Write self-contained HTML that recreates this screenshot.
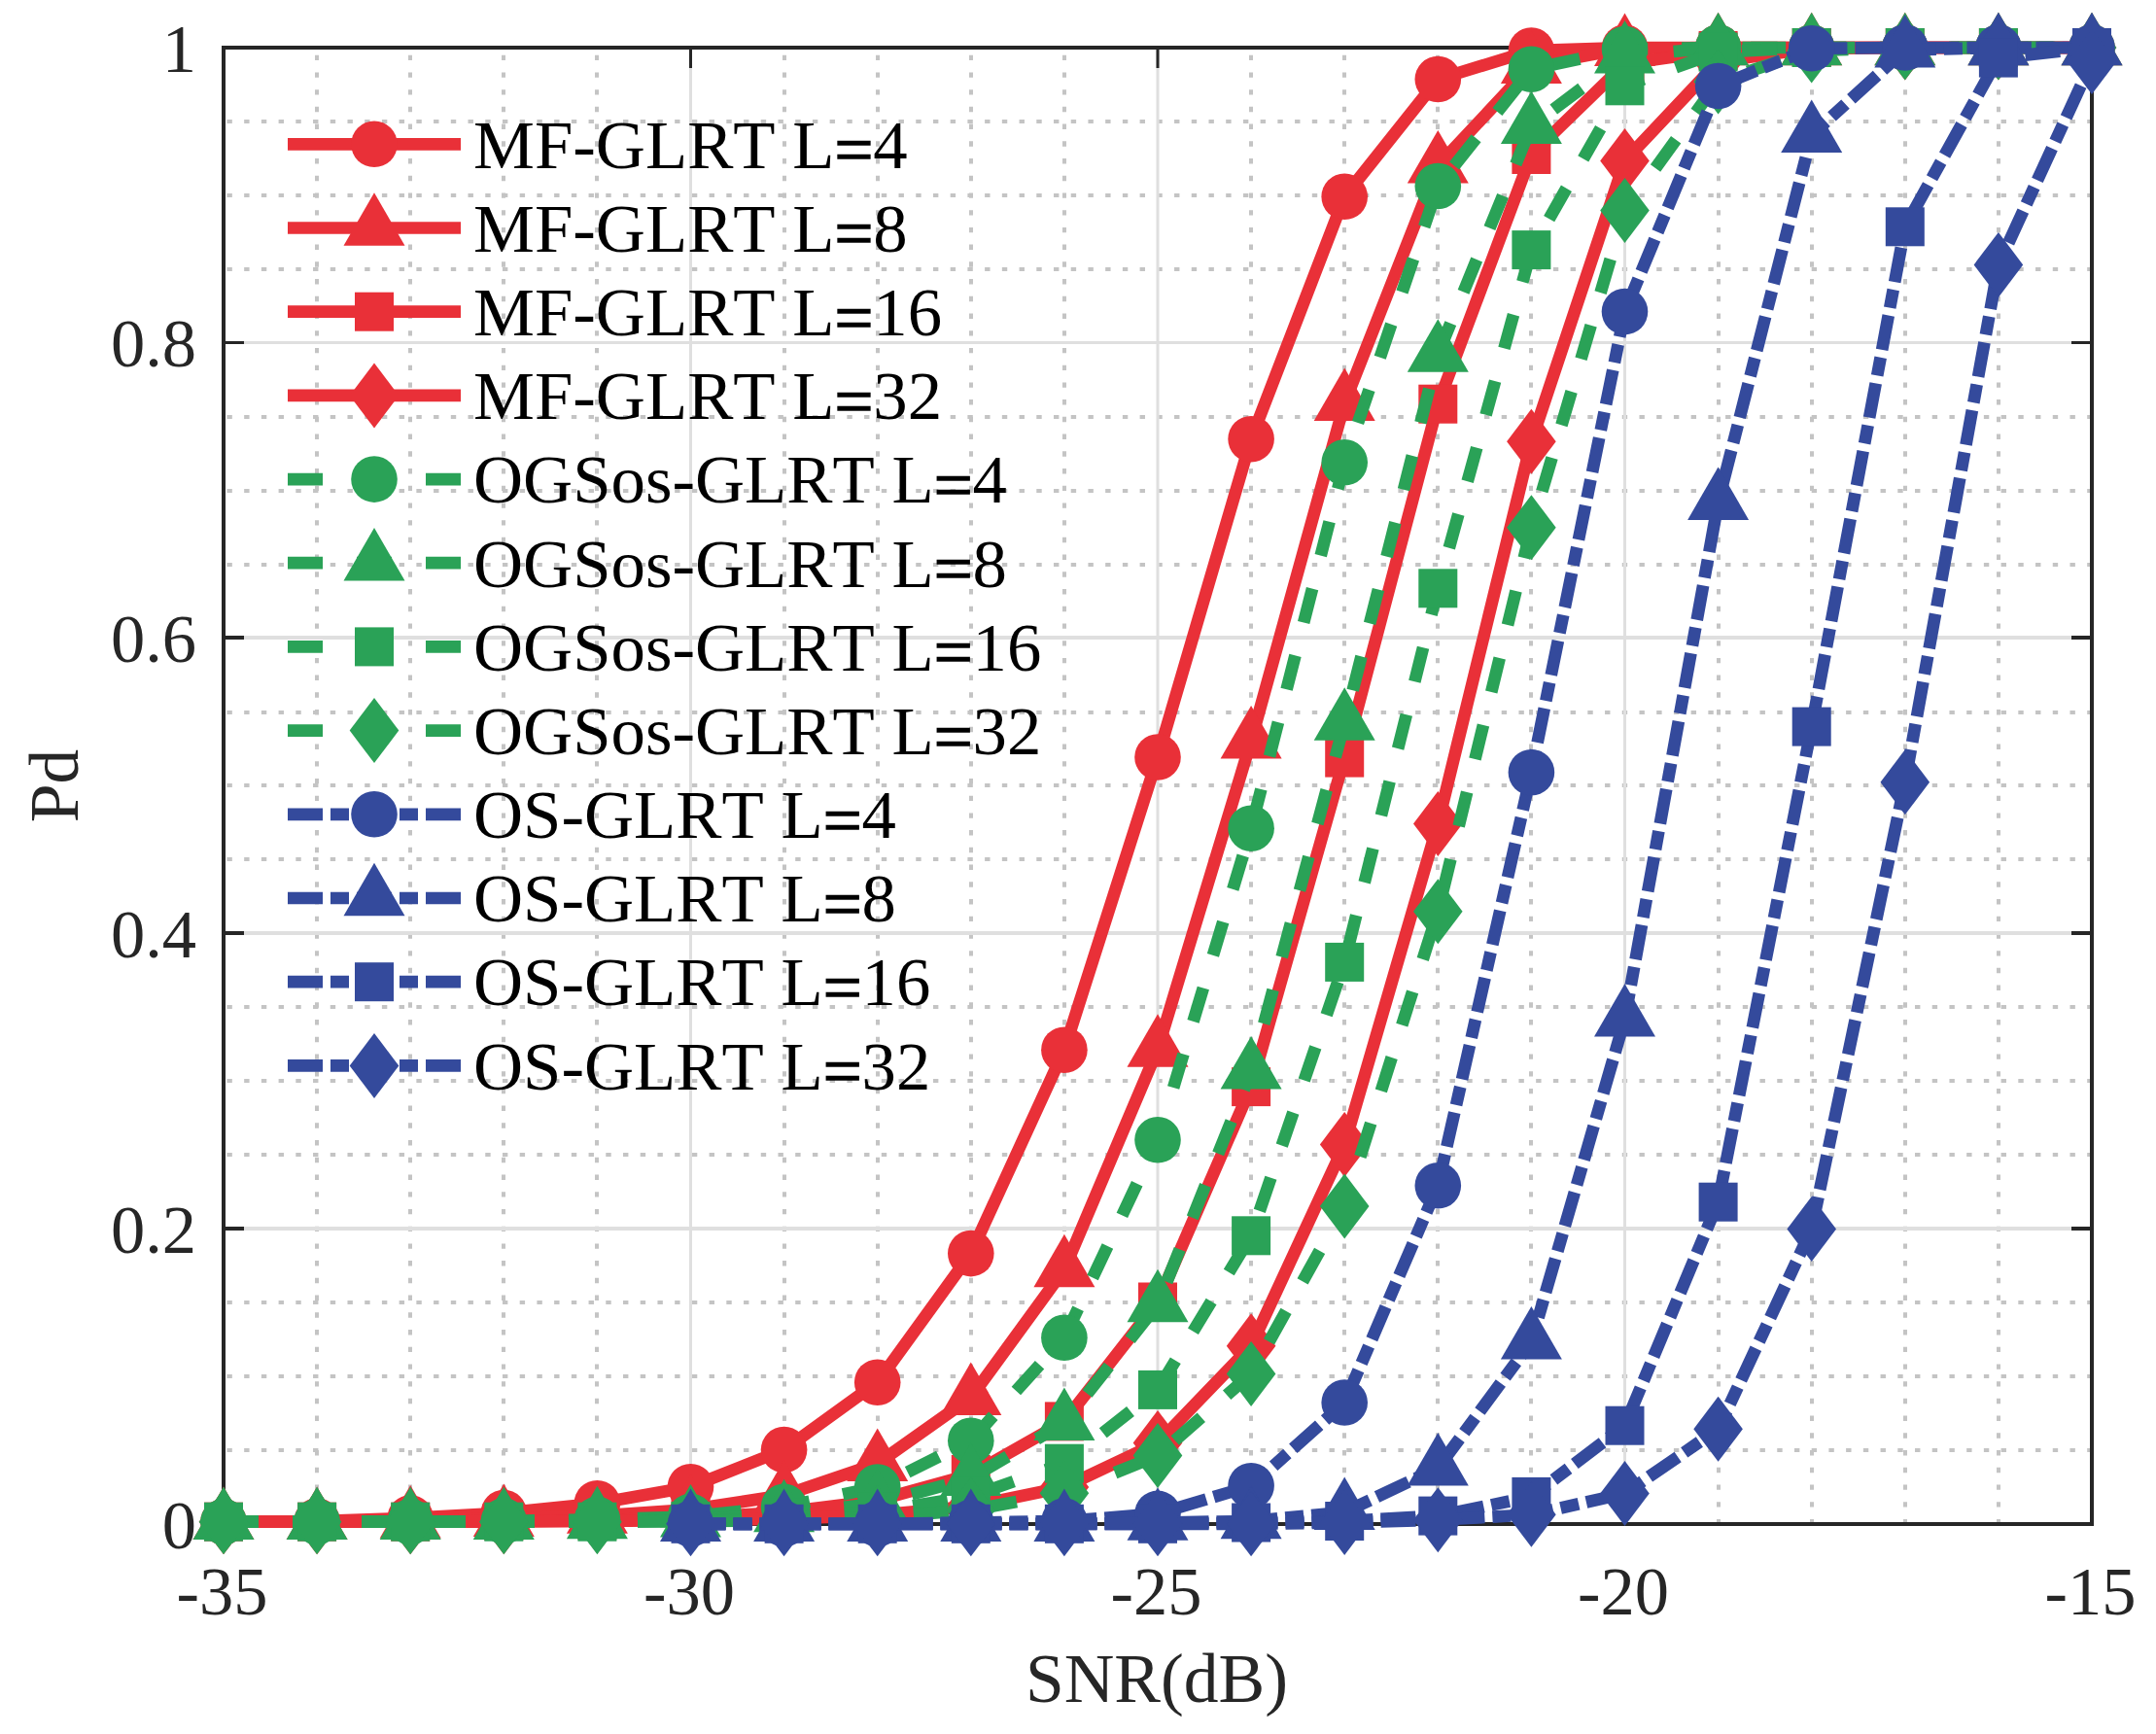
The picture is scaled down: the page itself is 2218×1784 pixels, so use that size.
<!DOCTYPE html>
<html><head><meta charset="utf-8"><title>Pd vs SNR</title>
<style>html,body{margin:0;padding:0;background:#fff;overflow:hidden}svg{display:block}text{font-kerning:none;font-variant-ligatures:none;font-family:"Liberation Serif","Times New Roman",serif;font-size:70.5px}</style></head><body>
<svg width="2218" height="1784" viewBox="0 0 2218 1784">
<rect width="2218" height="1784" fill="#fff"/>
<g stroke="#c4c4c4" stroke-width="4" stroke-dasharray="5.4 12.32" fill="none"><line x1="326.0" y1="1568.3" x2="326.0" y2="49.0" /><line x1="422.0" y1="1568.3" x2="422.0" y2="49.0" /><line x1="518.0" y1="1568.3" x2="518.0" y2="49.0" /><line x1="614.0" y1="1568.3" x2="614.0" y2="49.0" /><line x1="807.0" y1="1568.3" x2="807.0" y2="49.0" /><line x1="903.0" y1="1568.3" x2="903.0" y2="49.0" /><line x1="999.0" y1="1568.3" x2="999.0" y2="49.0" /><line x1="1095.0" y1="1568.3" x2="1095.0" y2="49.0" /><line x1="1287.0" y1="1568.3" x2="1287.0" y2="49.0" /><line x1="1383.0" y1="1568.3" x2="1383.0" y2="49.0" /><line x1="1479.0" y1="1568.3" x2="1479.0" y2="49.0" /><line x1="1575.0" y1="1568.3" x2="1575.0" y2="49.0" /><line x1="1768.0" y1="1568.3" x2="1768.0" y2="49.0" /><line x1="1864.0" y1="1568.3" x2="1864.0" y2="49.0" /><line x1="1960.0" y1="1568.3" x2="1960.0" y2="49.0" /><line x1="2056.0" y1="1568.3" x2="2056.0" y2="49.0" /><line x1="2152.6" y1="1492.0" x2="230.0" y2="1492.0" /><line x1="2152.6" y1="1416.0" x2="230.0" y2="1416.0" /><line x1="2152.6" y1="1340.0" x2="230.0" y2="1340.0" /><line x1="2152.6" y1="1188.0" x2="230.0" y2="1188.0" /><line x1="2152.6" y1="1112.0" x2="230.0" y2="1112.0" /><line x1="2152.6" y1="1036.0" x2="230.0" y2="1036.0" /><line x1="2152.6" y1="884.0" x2="230.0" y2="884.0" /><line x1="2152.6" y1="808.0" x2="230.0" y2="808.0" /><line x1="2152.6" y1="733.0" x2="230.0" y2="733.0" /><line x1="2152.6" y1="581.0" x2="230.0" y2="581.0" /><line x1="2152.6" y1="505.0" x2="230.0" y2="505.0" /><line x1="2152.6" y1="429.0" x2="230.0" y2="429.0" /><line x1="2152.6" y1="277.0" x2="230.0" y2="277.0" /><line x1="2152.6" y1="201.0" x2="230.0" y2="201.0" /><line x1="2152.6" y1="125.0" x2="230.0" y2="125.0" /></g>
<g stroke="#dfdfdf" fill="none"><line x1="710.5" y1="1568.0" x2="710.5" y2="49.0" stroke-width="3"/><line x1="1191.0" y1="1568.0" x2="1191.0" y2="49.0" stroke-width="3"/><line x1="1671.5" y1="1568.0" x2="1671.5" y2="49.0" stroke-width="3"/><line x1="230.0" y1="1264.0" x2="2152.0" y2="1264.0" stroke-width="4"/><line x1="230.0" y1="960.0" x2="2152.0" y2="960.0" stroke-width="4"/><line x1="230.0" y1="656.0" x2="2152.0" y2="656.0" stroke-width="4"/><line x1="230.0" y1="352.5" x2="2152.0" y2="352.5" stroke-width="3"/></g>
<g stroke="#262626" fill="none"><rect x="230.0" y="49.0" width="1922.0" height="1519.0" fill="none" stroke-width="4"/><line x1="710.5" y1="1568.0" x2="710.5" y2="1547.0" stroke-width="3"/><line x1="710.5" y1="49.0" x2="710.5" y2="70.0" stroke-width="3"/><line x1="1191.0" y1="1568.0" x2="1191.0" y2="1547.0" stroke-width="3"/><line x1="1191.0" y1="49.0" x2="1191.0" y2="70.0" stroke-width="3"/><line x1="1671.5" y1="1568.0" x2="1671.5" y2="1547.0" stroke-width="3"/><line x1="1671.5" y1="49.0" x2="1671.5" y2="70.0" stroke-width="3"/><line x1="230.0" y1="1264.0" x2="251.0" y2="1264.0" stroke-width="4"/><line x1="2152.0" y1="1264.0" x2="2131.0" y2="1264.0" stroke-width="4"/><line x1="230.0" y1="960.0" x2="251.0" y2="960.0" stroke-width="4"/><line x1="2152.0" y1="960.0" x2="2131.0" y2="960.0" stroke-width="4"/><line x1="230.0" y1="656.0" x2="251.0" y2="656.0" stroke-width="4"/><line x1="2152.0" y1="656.0" x2="2131.0" y2="656.0" stroke-width="4"/><line x1="230.0" y1="352.5" x2="251.0" y2="352.5" stroke-width="3"/><line x1="2152.0" y1="352.5" x2="2131.0" y2="352.5" stroke-width="3"/></g>
<text x="228.5" y="1660.8" text-anchor="middle" fill="#262626">-35</text>
<text x="709.0" y="1660.8" text-anchor="middle" fill="#262626">-30</text>
<text x="1189.5" y="1660.8" text-anchor="middle" fill="#262626">-25</text>
<text x="1670.0" y="1660.8" text-anchor="middle" fill="#262626">-20</text>
<text x="2150.5" y="1660.8" text-anchor="middle" fill="#262626">-15</text>
<text x="202" y="1592.6" text-anchor="end" fill="#262626">0</text>
<text x="202" y="1288.8" text-anchor="end" fill="#262626">0.2</text>
<text x="202" y="985.0" text-anchor="end" fill="#262626">0.4</text>
<text x="202" y="681.2" text-anchor="end" fill="#262626">0.6</text>
<text x="202" y="377.4" text-anchor="end" fill="#262626">0.8</text>
<text x="202" y="73.6" text-anchor="end" fill="#262626">1</text>
<text x="1190" y="1751" text-anchor="middle" fill="#262626" style="font-size:71.5px">SNR(dB)</text>
<text transform="translate(80,808.5) rotate(-90)" text-anchor="middle" fill="#262626" style="font-size:71.5px">Pd</text>
<g><path d="M230.0,1565.7 L326.1,1565.0 L422.2,1561.9 L518.3,1556.6 L614.4,1546.7 L710.5,1529.7 L806.6,1491.6 L902.7,1422.2 L998.8,1289.6 L1094.9,1080.2 L1191.0,779.0 L1287.1,451.7 L1383.2,202.3 L1479.3,81.5 L1575.4,52.0 L1671.5,49.0 L1767.6,49.0 L1863.7,49.0 L1959.8,49.0 L2055.9,49.0 L2152.0,49.0" fill="none" stroke="#e93038" stroke-width="12.7" stroke-linejoin="round"/>
<circle cx="230.0" cy="1565.7" r="23.8" fill="#e93038"/><circle cx="326.1" cy="1565.0" r="23.8" fill="#e93038"/><circle cx="422.2" cy="1561.9" r="23.8" fill="#e93038"/><circle cx="518.3" cy="1556.6" r="23.8" fill="#e93038"/><circle cx="614.4" cy="1546.7" r="23.8" fill="#e93038"/><circle cx="710.5" cy="1529.7" r="23.8" fill="#e93038"/><circle cx="806.6" cy="1491.6" r="23.8" fill="#e93038"/><circle cx="902.7" cy="1422.2" r="23.8" fill="#e93038"/><circle cx="998.8" cy="1289.6" r="23.8" fill="#e93038"/><circle cx="1094.9" cy="1080.2" r="23.8" fill="#e93038"/><circle cx="1191.0" cy="779.0" r="23.8" fill="#e93038"/><circle cx="1287.1" cy="451.7" r="23.8" fill="#e93038"/><circle cx="1383.2" cy="202.3" r="23.8" fill="#e93038"/><circle cx="1479.3" cy="81.5" r="23.8" fill="#e93038"/><circle cx="1575.4" cy="52.0" r="23.8" fill="#e93038"/><circle cx="1671.5" cy="49.0" r="23.8" fill="#e93038"/><circle cx="1767.6" cy="49.0" r="23.8" fill="#e93038"/><circle cx="1863.7" cy="49.0" r="23.8" fill="#e93038"/><circle cx="1959.8" cy="49.0" r="23.8" fill="#e93038"/><circle cx="2055.9" cy="49.0" r="23.8" fill="#e93038"/><circle cx="2152.0" cy="49.0" r="23.8" fill="#e93038"/></g>
<g><path d="M230.0,1565.7 L326.1,1565.7 L422.2,1564.2 L518.3,1562.7 L614.4,1559.6 L710.5,1553.1 L806.6,1538.4 L902.7,1505.7 L998.8,1437.7 L1094.9,1306.1 L1191.0,1079.5 L1287.1,762.2 L1383.2,414.8 L1479.3,170.4 L1575.4,67.7 L1671.5,49.8 L1767.6,49.0 L1863.7,49.0 L1959.8,49.0 L2055.9,49.0 L2152.0,49.0" fill="none" stroke="#e93038" stroke-width="12.7" stroke-linejoin="round"/>
<polygon points="230.0,1529.4 261.5,1583.9 198.5,1583.9" fill="#e93038"/><polygon points="326.1,1529.4 357.6,1583.9 294.6,1583.9" fill="#e93038"/><polygon points="422.2,1527.9 453.7,1582.4 390.7,1582.4" fill="#e93038"/><polygon points="518.3,1526.4 549.8,1580.9 486.8,1580.9" fill="#e93038"/><polygon points="614.4,1523.3 645.9,1577.8 582.9,1577.8" fill="#e93038"/><polygon points="710.5,1516.8 742.0,1571.3 679.0,1571.3" fill="#e93038"/><polygon points="806.6,1502.1 838.1,1556.6 775.1,1556.6" fill="#e93038"/><polygon points="902.7,1469.4 934.2,1523.9 871.2,1523.9" fill="#e93038"/><polygon points="998.8,1401.4 1030.3,1455.9 967.3,1455.9" fill="#e93038"/><polygon points="1094.9,1269.8 1126.4,1324.3 1063.4,1324.3" fill="#e93038"/><polygon points="1191.0,1043.2 1222.5,1097.7 1159.5,1097.7" fill="#e93038"/><polygon points="1287.1,725.9 1318.6,780.4 1255.6,780.4" fill="#e93038"/><polygon points="1383.2,378.5 1414.7,433.0 1351.7,433.0" fill="#e93038"/><polygon points="1479.3,134.1 1510.8,188.6 1447.8,188.6" fill="#e93038"/><polygon points="1575.4,31.4 1606.9,85.9 1543.9,85.9" fill="#e93038"/><polygon points="1671.5,13.5 1703.0,68.0 1640.0,68.0" fill="#e93038"/><polygon points="1767.6,12.7 1799.1,67.2 1736.1,67.2" fill="#e93038"/><polygon points="1863.7,12.7 1895.2,67.2 1832.2,67.2" fill="#e93038"/><polygon points="1959.8,12.7 1991.3,67.2 1928.3,67.2" fill="#e93038"/><polygon points="2055.9,12.7 2087.4,67.2 2024.4,67.2" fill="#e93038"/><polygon points="2152.0,12.7 2183.5,67.2 2120.5,67.2" fill="#e93038"/></g>
<g><path d="M230.0,1565.7 L326.1,1565.7 L422.2,1565.7 L518.3,1565.0 L614.4,1564.2 L710.5,1561.9 L806.6,1555.8 L902.7,1543.7 L998.8,1517.0 L1094.9,1462.4 L1191.0,1339.5 L1287.1,1118.1 L1383.2,779.6 L1479.3,415.7 L1575.4,159.0 L1671.5,65.7 L1767.6,52.0 L1863.7,49.0 L1959.8,49.0 L2055.9,49.0 L2152.0,49.0" fill="none" stroke="#e93038" stroke-width="12.7" stroke-linejoin="round"/>
<rect x="210.0" y="1545.7" width="40" height="40" fill="#e93038"/><rect x="306.1" y="1545.7" width="40" height="40" fill="#e93038"/><rect x="402.2" y="1545.7" width="40" height="40" fill="#e93038"/><rect x="498.3" y="1545.0" width="40" height="40" fill="#e93038"/><rect x="594.4" y="1544.2" width="40" height="40" fill="#e93038"/><rect x="690.5" y="1541.9" width="40" height="40" fill="#e93038"/><rect x="786.6" y="1535.8" width="40" height="40" fill="#e93038"/><rect x="882.7" y="1523.7" width="40" height="40" fill="#e93038"/><rect x="978.8" y="1497.0" width="40" height="40" fill="#e93038"/><rect x="1074.9" y="1442.4" width="40" height="40" fill="#e93038"/><rect x="1171.0" y="1319.5" width="40" height="40" fill="#e93038"/><rect x="1267.1" y="1098.1" width="40" height="40" fill="#e93038"/><rect x="1363.2" y="759.6" width="40" height="40" fill="#e93038"/><rect x="1459.3" y="395.7" width="40" height="40" fill="#e93038"/><rect x="1555.4" y="139.0" width="40" height="40" fill="#e93038"/><rect x="1651.5" y="45.7" width="40" height="40" fill="#e93038"/><rect x="1747.6" y="32.0" width="40" height="40" fill="#e93038"/><rect x="1843.7" y="29.0" width="40" height="40" fill="#e93038"/><rect x="1939.8" y="29.0" width="40" height="40" fill="#e93038"/><rect x="2035.9" y="29.0" width="40" height="40" fill="#e93038"/><rect x="2132.0" y="29.0" width="40" height="40" fill="#e93038"/></g>
<g><path d="M230.0,1565.7 L326.1,1565.7 L422.2,1565.7 L518.3,1565.7 L614.4,1565.0 L710.5,1564.2 L806.6,1562.7 L902.7,1558.9 L998.8,1549.8 L1094.9,1530.0 L1191.0,1484.6 L1287.1,1384.8 L1383.2,1177.6 L1479.3,847.4 L1575.4,454.3 L1671.5,165.4 L1767.6,63.4 L1863.7,49.8 L1959.8,49.0 L2055.9,49.0 L2152.0,49.0" fill="none" stroke="#e93038" stroke-width="12.7" stroke-linejoin="round"/>
<polygon points="230.0,1532.2 255.3,1565.7 230.0,1599.2 204.7,1565.7" fill="#e93038"/><polygon points="326.1,1532.2 351.4,1565.7 326.1,1599.2 300.8,1565.7" fill="#e93038"/><polygon points="422.2,1532.2 447.5,1565.7 422.2,1599.2 396.9,1565.7" fill="#e93038"/><polygon points="518.3,1532.2 543.6,1565.7 518.3,1599.2 493.0,1565.7" fill="#e93038"/><polygon points="614.4,1531.5 639.7,1565.0 614.4,1598.5 589.1,1565.0" fill="#e93038"/><polygon points="710.5,1530.7 735.8,1564.2 710.5,1597.7 685.2,1564.2" fill="#e93038"/><polygon points="806.6,1529.2 831.9,1562.7 806.6,1596.2 781.3,1562.7" fill="#e93038"/><polygon points="902.7,1525.4 928.0,1558.9 902.7,1592.4 877.4,1558.9" fill="#e93038"/><polygon points="998.8,1516.3 1024.1,1549.8 998.8,1583.3 973.5,1549.8" fill="#e93038"/><polygon points="1094.9,1496.5 1120.2,1530.0 1094.9,1563.5 1069.6,1530.0" fill="#e93038"/><polygon points="1191.0,1451.1 1216.3,1484.6 1191.0,1518.1 1165.7,1484.6" fill="#e93038"/><polygon points="1287.1,1351.3 1312.4,1384.8 1287.1,1418.3 1261.8,1384.8" fill="#e93038"/><polygon points="1383.2,1144.1 1408.5,1177.6 1383.2,1211.1 1357.9,1177.6" fill="#e93038"/><polygon points="1479.3,813.9 1504.6,847.4 1479.3,880.9 1454.0,847.4" fill="#e93038"/><polygon points="1575.4,420.8 1600.7,454.3 1575.4,487.8 1550.1,454.3" fill="#e93038"/><polygon points="1671.5,131.9 1696.8,165.4 1671.5,198.9 1646.2,165.4" fill="#e93038"/><polygon points="1767.6,29.9 1792.9,63.4 1767.6,96.9 1742.3,63.4" fill="#e93038"/><polygon points="1863.7,16.3 1889.0,49.8 1863.7,83.3 1838.4,49.8" fill="#e93038"/><polygon points="1959.8,15.5 1985.1,49.0 1959.8,82.5 1934.5,49.0" fill="#e93038"/><polygon points="2055.9,15.5 2081.2,49.0 2055.9,82.5 2030.6,49.0" fill="#e93038"/><polygon points="2152.0,15.5 2177.3,49.0 2152.0,82.5 2126.7,49.0" fill="#e93038"/></g>
<g><path d="M230.0,1565.7 L326.1,1565.7 L422.2,1565.7 L518.3,1565.0 L614.4,1563.4 L710.5,1560.4 L806.6,1550.2 L902.7,1530.0 L998.8,1482.2 L1094.9,1376.3 L1191.0,1172.8 L1287.1,852.2 L1383.2,475.8 L1479.3,191.5 L1575.4,71.2 L1671.5,50.5 L1767.6,49.0 L1863.7,49.0 L1959.8,49.0 L2055.9,49.0 L2152.0,49.0" fill="none" stroke="#2aa257" stroke-width="12.7" stroke-linejoin="round" stroke-dasharray="36 35"/>
<circle cx="230.0" cy="1565.7" r="23.8" fill="#2aa257"/><circle cx="326.1" cy="1565.7" r="23.8" fill="#2aa257"/><circle cx="422.2" cy="1565.7" r="23.8" fill="#2aa257"/><circle cx="518.3" cy="1565.0" r="23.8" fill="#2aa257"/><circle cx="614.4" cy="1563.4" r="23.8" fill="#2aa257"/><circle cx="710.5" cy="1560.4" r="23.8" fill="#2aa257"/><circle cx="806.6" cy="1550.2" r="23.8" fill="#2aa257"/><circle cx="902.7" cy="1530.0" r="23.8" fill="#2aa257"/><circle cx="998.8" cy="1482.2" r="23.8" fill="#2aa257"/><circle cx="1094.9" cy="1376.3" r="23.8" fill="#2aa257"/><circle cx="1191.0" cy="1172.8" r="23.8" fill="#2aa257"/><circle cx="1287.1" cy="852.2" r="23.8" fill="#2aa257"/><circle cx="1383.2" cy="475.8" r="23.8" fill="#2aa257"/><circle cx="1479.3" cy="191.5" r="23.8" fill="#2aa257"/><circle cx="1575.4" cy="71.2" r="23.8" fill="#2aa257"/><circle cx="1671.5" cy="50.5" r="23.8" fill="#2aa257"/><circle cx="1767.6" cy="49.0" r="23.8" fill="#2aa257"/><circle cx="1863.7" cy="49.0" r="23.8" fill="#2aa257"/><circle cx="1959.8" cy="49.0" r="23.8" fill="#2aa257"/><circle cx="2055.9" cy="49.0" r="23.8" fill="#2aa257"/><circle cx="2152.0" cy="49.0" r="23.8" fill="#2aa257"/></g>
<g><path d="M230.0,1565.7 L326.1,1565.7 L422.2,1565.7 L518.3,1565.7 L614.4,1565.0 L710.5,1563.4 L806.6,1558.1 L902.7,1546.7 L998.8,1520.9 L1094.9,1463.8 L1191.0,1342.0 L1287.1,1102.4 L1383.2,743.6 L1479.3,364.5 L1575.4,129.7 L1671.5,57.4 L1767.6,49.0 L1863.7,49.0 L1959.8,49.0 L2055.9,49.0 L2152.0,49.0" fill="none" stroke="#2aa257" stroke-width="12.7" stroke-linejoin="round" stroke-dasharray="36 35"/>
<polygon points="230.0,1529.4 261.5,1583.9 198.5,1583.9" fill="#2aa257"/><polygon points="326.1,1529.4 357.6,1583.9 294.6,1583.9" fill="#2aa257"/><polygon points="422.2,1529.4 453.7,1583.9 390.7,1583.9" fill="#2aa257"/><polygon points="518.3,1529.4 549.8,1583.9 486.8,1583.9" fill="#2aa257"/><polygon points="614.4,1528.7 645.9,1583.2 582.9,1583.2" fill="#2aa257"/><polygon points="710.5,1527.1 742.0,1581.6 679.0,1581.6" fill="#2aa257"/><polygon points="806.6,1521.8 838.1,1576.3 775.1,1576.3" fill="#2aa257"/><polygon points="902.7,1510.4 934.2,1564.9 871.2,1564.9" fill="#2aa257"/><polygon points="998.8,1484.6 1030.3,1539.1 967.3,1539.1" fill="#2aa257"/><polygon points="1094.9,1427.5 1126.4,1482.0 1063.4,1482.0" fill="#2aa257"/><polygon points="1191.0,1305.7 1222.5,1360.2 1159.5,1360.2" fill="#2aa257"/><polygon points="1287.1,1066.1 1318.6,1120.6 1255.6,1120.6" fill="#2aa257"/><polygon points="1383.2,707.3 1414.7,761.8 1351.7,761.8" fill="#2aa257"/><polygon points="1479.3,328.2 1510.8,382.7 1447.8,382.7" fill="#2aa257"/><polygon points="1575.4,93.4 1606.9,147.9 1543.9,147.9" fill="#2aa257"/><polygon points="1671.5,21.1 1703.0,75.6 1640.0,75.6" fill="#2aa257"/><polygon points="1767.6,12.7 1799.1,67.2 1736.1,67.2" fill="#2aa257"/><polygon points="1863.7,12.7 1895.2,67.2 1832.2,67.2" fill="#2aa257"/><polygon points="1959.8,12.7 1991.3,67.2 1928.3,67.2" fill="#2aa257"/><polygon points="2055.9,12.7 2087.4,67.2 2024.4,67.2" fill="#2aa257"/><polygon points="2152.0,12.7 2183.5,67.2 2120.5,67.2" fill="#2aa257"/></g>
<g><path d="M230.0,1565.7 L326.1,1565.7 L422.2,1565.7 L518.3,1565.7 L614.4,1565.7 L710.5,1565.0 L806.6,1561.9 L902.7,1555.1 L998.8,1539.7 L1094.9,1505.7 L1191.0,1429.9 L1287.1,1271.3 L1383.2,989.9 L1479.3,605.3 L1575.4,257.1 L1671.5,88.3 L1767.6,53.6 L1863.7,49.0 L1959.8,49.0 L2055.9,49.0 L2152.0,49.0" fill="none" stroke="#2aa257" stroke-width="12.7" stroke-linejoin="round" stroke-dasharray="36 35"/>
<rect x="210.0" y="1545.7" width="40" height="40" fill="#2aa257"/><rect x="306.1" y="1545.7" width="40" height="40" fill="#2aa257"/><rect x="402.2" y="1545.7" width="40" height="40" fill="#2aa257"/><rect x="498.3" y="1545.7" width="40" height="40" fill="#2aa257"/><rect x="594.4" y="1545.7" width="40" height="40" fill="#2aa257"/><rect x="690.5" y="1545.0" width="40" height="40" fill="#2aa257"/><rect x="786.6" y="1541.9" width="40" height="40" fill="#2aa257"/><rect x="882.7" y="1535.1" width="40" height="40" fill="#2aa257"/><rect x="978.8" y="1519.7" width="40" height="40" fill="#2aa257"/><rect x="1074.9" y="1485.7" width="40" height="40" fill="#2aa257"/><rect x="1171.0" y="1409.9" width="40" height="40" fill="#2aa257"/><rect x="1267.1" y="1251.3" width="40" height="40" fill="#2aa257"/><rect x="1363.2" y="969.9" width="40" height="40" fill="#2aa257"/><rect x="1459.3" y="585.3" width="40" height="40" fill="#2aa257"/><rect x="1555.4" y="237.1" width="40" height="40" fill="#2aa257"/><rect x="1651.5" y="68.3" width="40" height="40" fill="#2aa257"/><rect x="1747.6" y="33.6" width="40" height="40" fill="#2aa257"/><rect x="1843.7" y="29.0" width="40" height="40" fill="#2aa257"/><rect x="1939.8" y="29.0" width="40" height="40" fill="#2aa257"/><rect x="2035.9" y="29.0" width="40" height="40" fill="#2aa257"/><rect x="2132.0" y="29.0" width="40" height="40" fill="#2aa257"/></g>
<g><path d="M230.0,1565.7 L326.1,1565.7 L422.2,1565.7 L518.3,1565.7 L614.4,1565.7 L710.5,1565.0 L806.6,1564.2 L902.7,1561.2 L998.8,1553.6 L1094.9,1536.3 L1191.0,1497.5 L1287.1,1413.4 L1383.2,1241.0 L1479.3,937.8 L1575.4,542.7 L1671.5,216.5 L1767.6,83.9 L1863.7,52.0 L1959.8,49.0 L2055.9,49.0 L2152.0,49.0" fill="none" stroke="#2aa257" stroke-width="12.7" stroke-linejoin="round" stroke-dasharray="36 35"/>
<polygon points="230.0,1532.2 255.3,1565.7 230.0,1599.2 204.7,1565.7" fill="#2aa257"/><polygon points="326.1,1532.2 351.4,1565.7 326.1,1599.2 300.8,1565.7" fill="#2aa257"/><polygon points="422.2,1532.2 447.5,1565.7 422.2,1599.2 396.9,1565.7" fill="#2aa257"/><polygon points="518.3,1532.2 543.6,1565.7 518.3,1599.2 493.0,1565.7" fill="#2aa257"/><polygon points="614.4,1532.2 639.7,1565.7 614.4,1599.2 589.1,1565.7" fill="#2aa257"/><polygon points="710.5,1531.5 735.8,1565.0 710.5,1598.5 685.2,1565.0" fill="#2aa257"/><polygon points="806.6,1530.7 831.9,1564.2 806.6,1597.7 781.3,1564.2" fill="#2aa257"/><polygon points="902.7,1527.7 928.0,1561.2 902.7,1594.7 877.4,1561.2" fill="#2aa257"/><polygon points="998.8,1520.1 1024.1,1553.6 998.8,1587.1 973.5,1553.6" fill="#2aa257"/><polygon points="1094.9,1502.8 1120.2,1536.3 1094.9,1569.8 1069.6,1536.3" fill="#2aa257"/><polygon points="1191.0,1464.0 1216.3,1497.5 1191.0,1531.0 1165.7,1497.5" fill="#2aa257"/><polygon points="1287.1,1379.9 1312.4,1413.4 1287.1,1446.9 1261.8,1413.4" fill="#2aa257"/><polygon points="1383.2,1207.5 1408.5,1241.0 1383.2,1274.5 1357.9,1241.0" fill="#2aa257"/><polygon points="1479.3,904.3 1504.6,937.8 1479.3,971.3 1454.0,937.8" fill="#2aa257"/><polygon points="1575.4,509.2 1600.7,542.7 1575.4,576.2 1550.1,542.7" fill="#2aa257"/><polygon points="1671.5,183.0 1696.8,216.5 1671.5,250.0 1646.2,216.5" fill="#2aa257"/><polygon points="1767.6,50.4 1792.9,83.9 1767.6,117.4 1742.3,83.9" fill="#2aa257"/><polygon points="1863.7,18.5 1889.0,52.0 1863.7,85.5 1838.4,52.0" fill="#2aa257"/><polygon points="1959.8,15.5 1985.1,49.0 1959.8,82.5 1934.5,49.0" fill="#2aa257"/><polygon points="2055.9,15.5 2081.2,49.0 2055.9,82.5 2030.6,49.0" fill="#2aa257"/><polygon points="2152.0,15.5 2177.3,49.0 2152.0,82.5 2126.7,49.0" fill="#2aa257"/></g>
<g><path d="M710.5,1567.8 L806.6,1567.8 L902.7,1567.8 L998.8,1566.5 L1094.9,1565.0 L1191.0,1557.4 L1287.1,1528.7 L1383.2,1443.0 L1479.3,1219.8 L1575.4,794.7 L1671.5,320.6 L1767.6,88.5 L1863.7,49.8 L1959.8,49.0 L2055.9,49.0 L2152.0,49.0" fill="none" stroke="#344a9c" stroke-width="12.7" stroke-linejoin="round" stroke-dasharray="36 8 19 8"/>
<circle cx="710.5" cy="1567.8" r="23.8" fill="#344a9c"/><circle cx="806.6" cy="1567.8" r="23.8" fill="#344a9c"/><circle cx="902.7" cy="1567.8" r="23.8" fill="#344a9c"/><circle cx="998.8" cy="1566.5" r="23.8" fill="#344a9c"/><circle cx="1094.9" cy="1565.0" r="23.8" fill="#344a9c"/><circle cx="1191.0" cy="1557.4" r="23.8" fill="#344a9c"/><circle cx="1287.1" cy="1528.7" r="23.8" fill="#344a9c"/><circle cx="1383.2" cy="1443.0" r="23.8" fill="#344a9c"/><circle cx="1479.3" cy="1219.8" r="23.8" fill="#344a9c"/><circle cx="1575.4" cy="794.7" r="23.8" fill="#344a9c"/><circle cx="1671.5" cy="320.6" r="23.8" fill="#344a9c"/><circle cx="1767.6" cy="88.5" r="23.8" fill="#344a9c"/><circle cx="1863.7" cy="49.8" r="23.8" fill="#344a9c"/><circle cx="1959.8" cy="49.0" r="23.8" fill="#344a9c"/><circle cx="2055.9" cy="49.0" r="23.8" fill="#344a9c"/><circle cx="2152.0" cy="49.0" r="23.8" fill="#344a9c"/></g>
<g><path d="M710.5,1567.8 L806.6,1567.8 L902.7,1567.8 L998.8,1567.8 L1094.9,1567.8 L1191.0,1566.5 L1287.1,1565.0 L1383.2,1555.8 L1479.3,1510.3 L1575.4,1380.4 L1671.5,1048.4 L1767.6,516.7 L1863.7,138.8 L1959.8,51.3 L2055.9,49.0 L2152.0,49.0" fill="none" stroke="#344a9c" stroke-width="12.7" stroke-linejoin="round" stroke-dasharray="36 8 19 8"/>
<polygon points="710.5,1531.5 742.0,1586.0 679.0,1586.0" fill="#344a9c"/><polygon points="806.6,1531.5 838.1,1586.0 775.1,1586.0" fill="#344a9c"/><polygon points="902.7,1531.5 934.2,1586.0 871.2,1586.0" fill="#344a9c"/><polygon points="998.8,1531.5 1030.3,1586.0 967.3,1586.0" fill="#344a9c"/><polygon points="1094.9,1531.5 1126.4,1586.0 1063.4,1586.0" fill="#344a9c"/><polygon points="1191.0,1530.2 1222.5,1584.7 1159.5,1584.7" fill="#344a9c"/><polygon points="1287.1,1528.7 1318.6,1583.2 1255.6,1583.2" fill="#344a9c"/><polygon points="1383.2,1519.5 1414.7,1574.0 1351.7,1574.0" fill="#344a9c"/><polygon points="1479.3,1474.0 1510.8,1528.5 1447.8,1528.5" fill="#344a9c"/><polygon points="1575.4,1344.1 1606.9,1398.6 1543.9,1398.6" fill="#344a9c"/><polygon points="1671.5,1012.1 1703.0,1066.6 1640.0,1066.6" fill="#344a9c"/><polygon points="1767.6,480.4 1799.1,534.9 1736.1,534.9" fill="#344a9c"/><polygon points="1863.7,102.5 1895.2,157.0 1832.2,157.0" fill="#344a9c"/><polygon points="1959.8,15.0 1991.3,69.5 1928.3,69.5" fill="#344a9c"/><polygon points="2055.9,12.7 2087.4,67.2 2024.4,67.2" fill="#344a9c"/><polygon points="2152.0,12.7 2183.5,67.2 2120.5,67.2" fill="#344a9c"/></g>
<g><path d="M710.5,1567.8 L806.6,1567.8 L902.7,1567.8 L998.8,1567.8 L1094.9,1567.8 L1191.0,1567.8 L1287.1,1566.5 L1383.2,1565.0 L1479.3,1559.6 L1575.4,1539.9 L1671.5,1466.7 L1767.6,1236.7 L1863.7,747.6 L1959.8,233.3 L2055.9,59.6 L2152.0,49.0" fill="none" stroke="#344a9c" stroke-width="12.7" stroke-linejoin="round" stroke-dasharray="36 8 19 8"/>
<rect x="690.5" y="1547.8" width="40" height="40" fill="#344a9c"/><rect x="786.6" y="1547.8" width="40" height="40" fill="#344a9c"/><rect x="882.7" y="1547.8" width="40" height="40" fill="#344a9c"/><rect x="978.8" y="1547.8" width="40" height="40" fill="#344a9c"/><rect x="1074.9" y="1547.8" width="40" height="40" fill="#344a9c"/><rect x="1171.0" y="1547.8" width="40" height="40" fill="#344a9c"/><rect x="1267.1" y="1546.5" width="40" height="40" fill="#344a9c"/><rect x="1363.2" y="1545.0" width="40" height="40" fill="#344a9c"/><rect x="1459.3" y="1539.6" width="40" height="40" fill="#344a9c"/><rect x="1555.4" y="1519.9" width="40" height="40" fill="#344a9c"/><rect x="1651.5" y="1446.7" width="40" height="40" fill="#344a9c"/><rect x="1747.6" y="1216.7" width="40" height="40" fill="#344a9c"/><rect x="1843.7" y="727.6" width="40" height="40" fill="#344a9c"/><rect x="1939.8" y="213.3" width="40" height="40" fill="#344a9c"/><rect x="2035.9" y="39.6" width="40" height="40" fill="#344a9c"/><rect x="2132.0" y="29.0" width="40" height="40" fill="#344a9c"/></g>
<g><path d="M710.5,1567.8 L806.6,1567.8 L902.7,1567.8 L998.8,1567.8 L1094.9,1567.8 L1191.0,1567.8 L1287.1,1567.8 L1383.2,1566.5 L1479.3,1563.7 L1575.4,1558.3 L1671.5,1536.6 L1767.6,1470.3 L1863.7,1264.5 L1959.8,804.7 L2055.9,272.4 L2152.0,63.4" fill="none" stroke="#344a9c" stroke-width="12.7" stroke-linejoin="round" stroke-dasharray="36 8 19 8"/>
<polygon points="710.5,1534.3 735.8,1567.8 710.5,1601.3 685.2,1567.8" fill="#344a9c"/><polygon points="806.6,1534.3 831.9,1567.8 806.6,1601.3 781.3,1567.8" fill="#344a9c"/><polygon points="902.7,1534.3 928.0,1567.8 902.7,1601.3 877.4,1567.8" fill="#344a9c"/><polygon points="998.8,1534.3 1024.1,1567.8 998.8,1601.3 973.5,1567.8" fill="#344a9c"/><polygon points="1094.9,1534.3 1120.2,1567.8 1094.9,1601.3 1069.6,1567.8" fill="#344a9c"/><polygon points="1191.0,1534.3 1216.3,1567.8 1191.0,1601.3 1165.7,1567.8" fill="#344a9c"/><polygon points="1287.1,1534.3 1312.4,1567.8 1287.1,1601.3 1261.8,1567.8" fill="#344a9c"/><polygon points="1383.2,1533.0 1408.5,1566.5 1383.2,1600.0 1357.9,1566.5" fill="#344a9c"/><polygon points="1479.3,1530.2 1504.6,1563.7 1479.3,1597.2 1454.0,1563.7" fill="#344a9c"/><polygon points="1575.4,1524.8 1600.7,1558.3 1575.4,1591.8 1550.1,1558.3" fill="#344a9c"/><polygon points="1671.5,1503.1 1696.8,1536.6 1671.5,1570.1 1646.2,1536.6" fill="#344a9c"/><polygon points="1767.6,1436.8 1792.9,1470.3 1767.6,1503.8 1742.3,1470.3" fill="#344a9c"/><polygon points="1863.7,1231.0 1889.0,1264.5 1863.7,1298.0 1838.4,1264.5" fill="#344a9c"/><polygon points="1959.8,771.2 1985.1,804.7 1959.8,838.2 1934.5,804.7" fill="#344a9c"/><polygon points="2055.9,238.9 2081.2,272.4 2055.9,305.9 2030.6,272.4" fill="#344a9c"/><polygon points="2152.0,29.9 2177.3,63.4 2152.0,96.9 2126.7,63.4" fill="#344a9c"/></g>
<g><line x1="296.0" y1="148.3" x2="474.0" y2="148.3" stroke="#e93038" stroke-width="12.7"/><circle cx="385.0" cy="148.3" r="23.8" fill="#e93038"/><text x="487.0" y="172.5" fill="#000" style="font-size:70.75px">MF-GLRT L<tspan dy="5.7" stroke="#000" stroke-width="1.4">=</tspan><tspan dy="-5.7">4</tspan></text></g>
<g><line x1="296.0" y1="234.5" x2="474.0" y2="234.5" stroke="#e93038" stroke-width="12.7"/><polygon points="385.0,198.2 416.5,252.7 353.5,252.7" fill="#e93038"/><text x="487.0" y="258.7" fill="#000" style="font-size:70.75px">MF-GLRT L<tspan dy="5.7" stroke="#000" stroke-width="1.4">=</tspan><tspan dy="-5.7">8</tspan></text></g>
<g><line x1="296.0" y1="320.7" x2="474.0" y2="320.7" stroke="#e93038" stroke-width="12.7"/><rect x="365.0" y="300.7" width="40" height="40" fill="#e93038"/><text x="487.0" y="344.9" fill="#000" style="font-size:70.75px">MF-GLRT L<tspan dy="5.7" stroke="#000" stroke-width="1.4">=</tspan><tspan dy="-5.7">16</tspan></text></g>
<g><line x1="296.0" y1="406.9" x2="474.0" y2="406.9" stroke="#e93038" stroke-width="12.7"/><polygon points="385.0,373.4 410.3,406.9 385.0,440.4 359.7,406.9" fill="#e93038"/><text x="487.0" y="431.1" fill="#000" style="font-size:70.75px">MF-GLRT L<tspan dy="5.7" stroke="#000" stroke-width="1.4">=</tspan><tspan dy="-5.7">32</tspan></text></g>
<g><line x1="296.0" y1="493.1" x2="474.0" y2="493.1" stroke="#2aa257" stroke-width="12.7" stroke-dasharray="36 35"/><circle cx="385.0" cy="493.1" r="23.8" fill="#2aa257"/><text x="487.0" y="517.3" fill="#000" style="font-size:70.75px">OGSos-GLRT L<tspan dy="5.7" stroke="#000" stroke-width="1.4">=</tspan><tspan dy="-5.7">4</tspan></text></g>
<g><line x1="296.0" y1="579.2" x2="474.0" y2="579.2" stroke="#2aa257" stroke-width="12.7" stroke-dasharray="36 35"/><polygon points="385.0,543.0 416.5,597.5 353.5,597.5" fill="#2aa257"/><text x="487.0" y="603.5" fill="#000" style="font-size:70.75px">OGSos-GLRT L<tspan dy="5.7" stroke="#000" stroke-width="1.4">=</tspan><tspan dy="-5.7">8</tspan></text></g>
<g><line x1="296.0" y1="665.4" x2="474.0" y2="665.4" stroke="#2aa257" stroke-width="12.7" stroke-dasharray="36 35"/><rect x="365.0" y="645.4" width="40" height="40" fill="#2aa257"/><text x="487.0" y="689.6" fill="#000" style="font-size:70.75px">OGSos-GLRT L<tspan dy="5.7" stroke="#000" stroke-width="1.4">=</tspan><tspan dy="-5.7">16</tspan></text></g>
<g><line x1="296.0" y1="751.6" x2="474.0" y2="751.6" stroke="#2aa257" stroke-width="12.7" stroke-dasharray="36 35"/><polygon points="385.0,718.1 410.3,751.6 385.0,785.1 359.7,751.6" fill="#2aa257"/><text x="487.0" y="775.8" fill="#000" style="font-size:70.75px">OGSos-GLRT L<tspan dy="5.7" stroke="#000" stroke-width="1.4">=</tspan><tspan dy="-5.7">32</tspan></text></g>
<g><line x1="296.0" y1="837.8" x2="474.0" y2="837.8" stroke="#344a9c" stroke-width="12.7" stroke-dasharray="36 8 19 8"/><circle cx="385.0" cy="837.8" r="23.8" fill="#344a9c"/><text x="487.0" y="862.0" fill="#000" style="font-size:70.75px">OS-GLRT L<tspan dy="5.7" stroke="#000" stroke-width="1.4">=</tspan><tspan dy="-5.7">4</tspan></text></g>
<g><line x1="296.0" y1="924.0" x2="474.0" y2="924.0" stroke="#344a9c" stroke-width="12.7" stroke-dasharray="36 8 19 8"/><polygon points="385.0,887.7 416.5,942.2 353.5,942.2" fill="#344a9c"/><text x="487.0" y="948.2" fill="#000" style="font-size:70.75px">OS-GLRT L<tspan dy="5.7" stroke="#000" stroke-width="1.4">=</tspan><tspan dy="-5.7">8</tspan></text></g>
<g><line x1="296.0" y1="1010.2" x2="474.0" y2="1010.2" stroke="#344a9c" stroke-width="12.7" stroke-dasharray="36 8 19 8"/><rect x="365.0" y="990.2" width="40" height="40" fill="#344a9c"/><text x="487.0" y="1034.4" fill="#000" style="font-size:70.75px">OS-GLRT L<tspan dy="5.7" stroke="#000" stroke-width="1.4">=</tspan><tspan dy="-5.7">16</tspan></text></g>
<g><line x1="296.0" y1="1096.4" x2="474.0" y2="1096.4" stroke="#344a9c" stroke-width="12.7" stroke-dasharray="36 8 19 8"/><polygon points="385.0,1062.9 410.3,1096.4 385.0,1129.9 359.7,1096.4" fill="#344a9c"/><text x="487.0" y="1120.6" fill="#000" style="font-size:70.75px">OS-GLRT L<tspan dy="5.7" stroke="#000" stroke-width="1.4">=</tspan><tspan dy="-5.7">32</tspan></text></g>
</svg></body></html>
